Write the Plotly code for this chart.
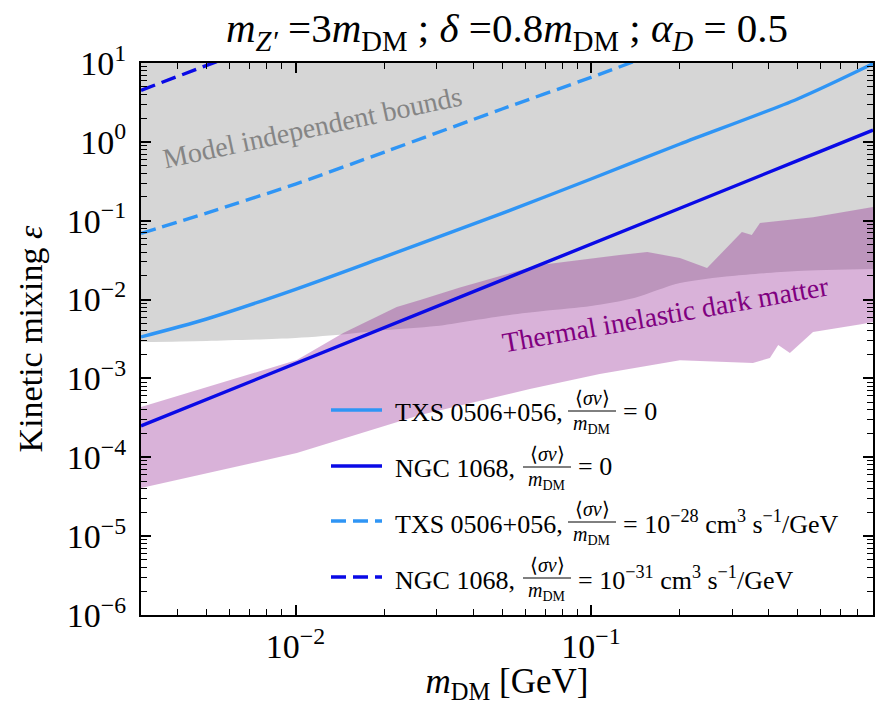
import numpy as np
import plotly.graph_objects as go

FONT = "Liberation Serif"
W, H = 877, 705
ML, MR, MT, MB = 141, 4, 63, 90

# ---- limit curves on kinetic mixing vs dark-matter mass ----
m_grid = [0.003, 0.005, 0.01, 0.02, 0.05, 0.1, 0.2, 0.5, 0.9]
eps_txs = [3.36e-3, 5.67e-3, 1.35e-2, 3.48e-2, 0.124, 0.338, 0.94, 3.50, 9.8]
eps_ngc = [2.5e-4, 5.4e-4, 1.54e-3, 4.4e-3, 1.77e-2, 5.05e-2, 0.144, 0.578, 1.41]

m_txs_ann = [0.003, 0.005, 0.01, 0.02, 0.05, 0.1, 0.2]
eps_txs_ann = [0.0689, 0.125, 0.292, 0.743, 2.61, 6.57, 17.2]

m_ngc_ann = [0.003, 0.005, 0.01]
eps_ngc_ann = [4.5, 9.4, 25.0]

# ---- model independent bounds (lower edge of excluded region) ----
m_mi = [0.003, 0.005, 0.01, 0.015, 0.02, 0.03, 0.05, 0.07, 0.1, 0.14, 0.2, 0.3, 0.5, 0.9]
eps_mi = [2.9e-3, 2.99e-3, 3.26e-3, 3.66e-3, 4.1e-3, 4.62e-3, 6.2e-3, 7.2e-3, 8.3e-3, 1.05e-2,
          1.62e-2, 1.99e-2, 2.3e-2, 2.44e-2]
m_frame = [0.003, 0.9]
eps_top = [10.0, 10.0]

# ---- thermal inelastic dark matter band ----
m_th_up = [0.003, 0.0101, 0.0145, 0.022, 0.0264, 0.036, 0.0621, 0.0671, 0.125, 0.155,
           0.2, 0.247, 0.324, 0.35, 0.373, 0.564, 0.9]
eps_th_up = [4.35e-4, 1.71e-3, 3.77e-3, 8.05e-3, 9.9e-3, 1.42e-2, 2.55e-2, 2.74e-2, 3.67e-2, 4.01e-2,
             3.37e-2, 2.51e-2, 7.2e-2, 6.59e-2, 9.35e-2, 0.111, 0.149]
m_th_lo = [0.003, 0.0101, 0.0264, 0.0621, 0.107, 0.2, 0.353, 0.403, 0.43, 0.471, 0.564, 0.83, 0.9]
eps_th_lo = [4.08e-5, 1.13e-4, 3.44e-4, 7.35e-4, 1.14e-3, 1.7e-3, 1.57e-3, 1.82e-3, 2.65e-3,
             2.1e-3, 3.88e-3, 4.9e-3, 5.2e-3]

# ---- axis ticks ----
x_tickvals = [0.01, 0.1]
x_ticktext = ["10<sup>−2</sup>", "10<sup>−1</sup>"]
y_tickvals = [1e-6, 1e-5, 1e-4, 1e-3, 1e-2, 1e-1, 1e0, 1e1]
y_ticktext = ["10<sup>−6</sup>", "10<sup>−5</sup>", "10<sup>−4</sup>", "10<sup>−3</sup>",
              "10<sup>−2</sup>", "10<sup>−1</sup>", "10<sup>0</sup>", "10<sup>1</sup>"]

LIGHT = "#2f95f5"
DARK = "#0a0ae6"
GRAY_FILL = "#d6d6d6"
PURPLE_FILL = "rgba(128,0,128,0.30)"
LW = 3.4
DASH = "15px,7px"

x_minor = [k * 10.0 ** e for e in (-3, -2, -1) for k in range(2, 10) if 0.003 < k * 10.0 ** e < 0.9]
y_minor = [k * 10.0 ** e for e in range(-6, 1) for k in range(2, 10)]

fig = go.Figure()

# excluded region: from the bound up to the top of the frame
fig.add_trace(go.Scatter(x=m_mi, y=eps_mi, mode="lines", line=dict(width=0, shape="spline", smoothing=0.8),
                         hoverinfo="skip", showlegend=False))
fig.add_trace(go.Scatter(x=m_frame, y=eps_top, mode="lines", line=dict(width=0),
                         fill="tonexty", fillcolor=GRAY_FILL, hoverinfo="skip", showlegend=False))

# thermal band
fig.add_trace(go.Scatter(
    x=m_th_up + m_th_lo[::-1], y=eps_th_up + eps_th_lo[::-1],
    fill="toself", fillcolor=PURPLE_FILL, line=dict(width=0), mode="lines",
    hoverinfo="skip", showlegend=False))

fig.add_trace(go.Scatter(x=m_grid, y=eps_txs, mode="lines",
                         line=dict(color=LIGHT, width=LW, shape="spline", smoothing=0.8), showlegend=False))
fig.add_trace(go.Scatter(x=m_grid, y=eps_ngc, mode="lines",
                         line=dict(color=DARK, width=LW), showlegend=False))
fig.add_trace(go.Scatter(x=m_txs_ann, y=eps_txs_ann, mode="lines",
                         line=dict(color=LIGHT, width=LW, dash=DASH, shape="spline", smoothing=0.8),
                         showlegend=False))
fig.add_trace(go.Scatter(x=m_ngc_ann, y=eps_ngc_ann, mode="lines",
                         line=dict(color=DARK, width=LW, dash=DASH), showlegend=False))

PW = W - ML - MR
PH = H - MT - MB


def px(xp):
    return (xp - ML) / PW


def py(yp):
    return (H - MB - yp) / PH


annotations = []
shapes = []

# region labels
annotations.append(dict(text="Model independent bounds", x=px(312), y=py(128), xref="paper", yref="paper",
                        xanchor="center", yanchor="middle", showarrow=False, textangle=-12,
                        font=dict(family=FONT, size=28, color="#858585")))
annotations.append(dict(text="Thermal inelastic dark matter", x=px(665), y=py(314), xref="paper", yref="paper",
                        xanchor="center", yanchor="middle", showarrow=False, textangle=-10,
                        font=dict(family=FONT, size=28, color="#800080")))

# legend
FRAC_NUM = "⟨<i>σv</i>⟩"
FRAC_DEN = "<i>m</i><sub>DM</sub>"
legend_rows = [
    ("TXS 0506+056,", "= 0", LIGHT, None, 410, 592, 621),
    ("NGC 1068,", "= 0", DARK, None, 466, 547, 576),
    ("TXS 0506+056,", "= 10<sup>−28</sup> cm<sup>3</sup> s<sup>−1</sup>/GeV", LIGHT, DASH, 521, 592, 621),
    ("NGC 1068,", "= 10<sup>−31</sup> cm<sup>3</sup> s<sup>−1</sup>/GeV", DARK, DASH, 577, 547, 576),
]
for label, suffix, color, dash, yrow, xfrac, xsuf in legend_rows:
    line = dict(color=color, width=LW)
    if dash:
        line["dash"] = DASH
    shapes.append(dict(type="line", xref="paper", yref="paper",
                       x0=px(331), x1=px(382), y0=py(yrow), y1=py(yrow), line=line))
    annotations.append(dict(text=label, x=px(393), y=py(yrow + 3), xref="paper", yref="paper",
                            xanchor="left", yanchor="middle", showarrow=False,
                            font=dict(family=FONT, size=26, color="black")))
    annotations.append(dict(text=FRAC_NUM, x=px(xfrac), y=py(yrow - 12), xref="paper", yref="paper",
                            xanchor="center", yanchor="middle", showarrow=False,
                            font=dict(family=FONT, size=20, color="black")))
    annotations.append(dict(text=FRAC_DEN, x=px(xfrac), y=py(yrow + 14), xref="paper", yref="paper",
                            xanchor="center", yanchor="middle", showarrow=False,
                            font=dict(family=FONT, size=20, color="black")))
    shapes.append(dict(type="line", xref="paper", yref="paper",
                       x0=px(xfrac - 24), x1=px(xfrac + 24), y0=py(yrow + 1), y1=py(yrow + 1),
                       line=dict(color="black", width=1)))
    annotations.append(dict(text=suffix, x=px(xsuf), y=py(yrow + 1), xref="paper", yref="paper",
                            xanchor="left", yanchor="middle", showarrow=False,
                            font=dict(family=FONT, size=26, color="black")))

axis_common = dict(
    showline=True, linecolor="black", linewidth=2, mirror="allticks",
    ticks="inside", ticklen=10, tickwidth=1.5, tickcolor="black",
    showgrid=False, zeroline=False, tickmode="array",
    tickfont=dict(family=FONT, size=34, color="black"),
)

fig.update_xaxes(type="log", range=[np.log10(0.003), np.log10(0.9)],
                 tickvals=x_tickvals, ticktext=x_ticktext,
                 minor=dict(tickmode="array", tickvals=x_minor, ticks="inside", ticklen=6,
                            tickwidth=1.2, tickcolor="black", showgrid=False),
                 title=dict(text="<i>m</i><sub>DM</sub> [GeV]", standoff=10,
                            font=dict(family=FONT, size=35, color="black")),
                 **axis_common)
fig.update_yaxes(type="log", range=[-6, 1],
                 tickvals=y_tickvals, ticktext=y_ticktext, ticklabelstandoff=6,
                 minor=dict(tickmode="array", tickvals=y_minor, ticks="inside", ticklen=6,
                            tickwidth=1.2, tickcolor="black", showgrid=False),
                 title=dict(text="Kinetic mixing <i>ε</i>", standoff=14,
                            font=dict(family=FONT, size=34, color="black")),
                 **axis_common)

fig.update_layout(
    width=W, height=H,
    margin=dict(l=ML, r=MR, t=MT, b=MB, autoexpand=False),
    paper_bgcolor="white", plot_bgcolor="white",
    title=dict(text="<i>m</i><sub><i>Z′</i></sub> =3<i>m</i><sub>DM</sub> ; <i>δ</i> =0.8<i>m</i><sub>DM</sub> ; "
                    "<i>α</i><sub><i>D</i></sub> = 0.5",
               x=px(507), xref="paper", xanchor="center",
               y=1 - 28 / H, yref="container", yanchor="middle",
               font=dict(family=FONT, size=41, color="black")),
    annotations=annotations, shapes=shapes,
    showlegend=False,
)

fig.write_html("out.html")
